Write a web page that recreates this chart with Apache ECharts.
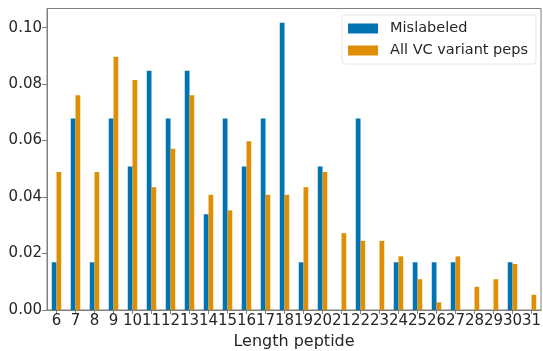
<!DOCTYPE html>
<html>
<head>
<meta charset="utf-8">
<script src="https://cdn.jsdelivr.net/npm/echarts@6/dist/echarts.min.js"></script>
<style>
  html, body { margin: 0; padding: 0; background: #fff; }
  #chart { width: 543px; height: 351px; }
</style>
</head>
<body>
<div id="chart"></div>
<script>
// Peptide lengths on the x axis
const lengths = ['6','7','8','9','10','11','12','13','14','15','16','17','18','19','20','21','22','23','24','25','26','27','28','29','30','31'];

// Fraction of peptides at each length
const mislabeled = [0.0169, 0.0678, 0.0169, 0.0678, 0.0508, 0.0847, 0.0678, 0.0847, 0.0339, 0.0678, 0.0508, 0.0678, 0.1017,
                    0.0169, 0.0508, 0, 0.0678, 0, 0.0169, 0.0169, 0.0169, 0.0169, 0, 0, 0.0169, 0];
const allVariant = [0.0489, 0.0761, 0.0489, 0.0897, 0.0815, 0.0435, 0.0571, 0.0761, 0.0408, 0.0353, 0.0598, 0.0408, 0.0408,
                    0.0435, 0.0489, 0.0272, 0.0245, 0.0245, 0.0190, 0.0109, 0.0027, 0.0190, 0.0082, 0.0109, 0.0163, 0.0054];

// Y axis tick values
const yTicks = [0, 0.02, 0.04, 0.06, 0.08, 0.10];

const FONT = 'DejaVu Sans';
const SPINE = '#7f7f7f';
const TEXT = '#262626';

const chart = echarts.init(document.getElementById('chart'), null, { renderer: 'canvas' });

chart.setOption({
  animation: false,
  backgroundColor: '#ffffff',
  textStyle: { fontFamily: FONT },
  grid: {
    left: 47, right: 2, top: 8.5, bottom: 41,
    outerBoundsMode: 'none',
    containLabel: false,
    show: true, borderColor: SPINE, borderWidth: 1, backgroundColor: 'transparent'
  },
  legend: {
    right: 7, top: 15,
    orient: 'vertical',
    itemWidth: 30, itemHeight: 10, itemGap: 7,
    padding: [6, 8, 6, 6],
    backgroundColor: '#ffffff',
    borderColor: '#e6e6e6', borderWidth: 1, borderRadius: 3,
    textStyle: { fontFamily: FONT, fontSize: 14.5, color: TEXT, lineHeight: 15, padding: [0, 0, 0, 7] },
    icon: 'rect',
    data: ['Mislabeled', 'All VC variant peps']
  },
  xAxis: {
    type: 'category',
    data: lengths,
    boundaryGap: true,
    name: 'Length peptide',
    nameLocation: 'middle',
    nameGap: 21,
    nameTextStyle: { fontFamily: FONT, fontSize: 16, color: TEXT, verticalAlign: 'middle', padding: [0, 0, 0, 0] },
    axisLine: { lineStyle: { color: SPINE, width: 1 } },
    axisTick: { show: true, alignWithLabel: true, length: 4, lineStyle: { color: SPINE } },
    axisLabel: { fontFamily: FONT, fontSize: 15, color: TEXT, margin: 4, interval: 0 },
    splitLine: { show: false }
  },
  yAxis: {
    type: 'value',
    min: 0,
    max: 0.10678,
    interval: 0.02,
    axisLine: { show: true, lineStyle: { color: SPINE, width: 1 } },
    axisTick: { show: true, length: 5, lineStyle: { color: SPINE }, customValues: yTicks },
    axisLabel: {
      fontFamily: FONT, fontSize: 15, color: TEXT, margin: 5,
      customValues: yTicks,
      formatter: v => v.toFixed(2)
    },
    splitLine: { show: false }
  },
  series: [
    {
      name: 'Mislabeled',
      type: 'bar',
      data: mislabeled,
      barWidth: '25%',
      barGap: '0%',
      itemStyle: { color: '#0173b2' }
    },
    {
      name: 'All VC variant peps',
      type: 'bar',
      data: allVariant,
      barWidth: '25%',
      barGap: '0%',
      itemStyle: { color: '#de8f05' }
    }
  ]
});
</script>
</body>
</html>
